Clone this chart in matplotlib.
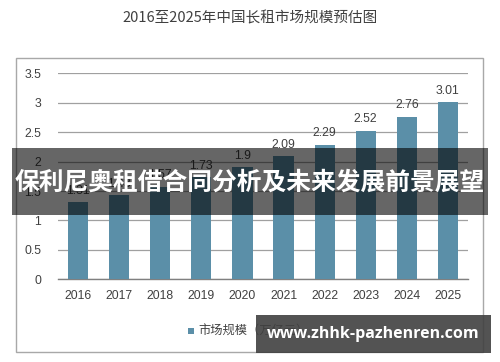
import matplotlib
matplotlib.use("Agg")
import matplotlib.pyplot as plt
from matplotlib.patches import Rectangle

plt.rcParams['font.family'] = ['Noto Sans CJK SC', 'DejaVu Sans']

years = ['2016', '2017', '2018', '2019', '2020', '2021', '2022', '2023', '2024', '2025']
values = [1.31, 1.43, 1.57, 1.73, 1.9, 2.09, 2.29, 2.52, 2.76, 3.01]
labels = ['1.31', '1.43', '1.57', '1.73', '1.9', '2.09', '2.29', '2.52', '2.76', '3.01']
yticks = [0, 0.5, 1, 1.5, 2, 2.5, 3, 3.5]
ytick_labels = ['0', '0.5', '1', '1.5', '2', '2.5', '3', '3.5']
title = '2016至2025年中国长租市场规模预估图'
legend_label = '市场规模（万亿元）'
overlay_text = '保利尼奥租借合同分析及未来发展前景展望'
watermark = 'www.zhhk-pazhenren.com'

W, H = 500, 362
fig = plt.figure(figsize=(W/100, H/100), dpi=100)
fig.patch.set_facecolor('white')

# outer chart frame
fig.add_artist(Rectangle((16/W, 1-352/H), (483-16)/W, (352-58)/H, transform=fig.transFigure,
                         fill=False, edgecolor='#a8a8a8', lw=1.0))

fig.text(250/W, 1-18/H, title, ha='center', va='center', fontsize=10.5, color='#404040',
         family=['Noto Sans CJK SC', 'DejaVu Sans'])

ax = fig.add_axes([58/W, 1-279.3/H, (468-58)/W, (279.3-73.3)/H])
x = list(range(len(years)))
bars = ax.bar(x, values, width=0.49, color='#5b8fa8', zorder=3)
ax.set_xlim(-0.49, 9.49)
ax.set_ylim(0, 3.5)
ax.set_yticks(yticks)
ax.set_yticklabels(ytick_labels)
ax.set_xticks(x)
ax.set_xticklabels(years)
ax.tick_params(axis='both', length=0, labelsize=8.8, colors='#404040')
ax.tick_params(axis='y', pad=12)
ax.tick_params(axis='x', pad=8)
for lab in ax.get_xticklabels() + ax.get_yticklabels():
    lab.set_family(['Liberation Sans', 'DejaVu Sans'])
ax.grid(axis='y', color='#a0a0a0', lw=0.9, zorder=0)
for s in ['left', 'right', 'top']:
    ax.spines[s].set_visible(False)
ax.spines['bottom'].set_color('#808080')
ax.spines['bottom'].set_linewidth(1.0)
for xi, v, l in zip(x, values, labels):
    ax.annotate(l, (xi, v), xytext=(0, 4), textcoords='offset points', ha='center', va='bottom',
                fontsize=8.8, color='#404040', family=['Liberation Sans', 'DejaVu Sans'])

# legend
fig.add_artist(Rectangle((188/W, 1-334/H), 6/W, 6/H, transform=fig.transFigure,
                         facecolor='#5b8fa8', edgecolor='none'))
fig.text(198/W, 1-331/H, legend_label, ha='left', va='center', fontsize=8.8, color='#404040')

# overlay band
fig.add_artist(Rectangle((12/W, 1-215/H), (488-12)/W, (215-148)/H, transform=fig.transFigure,
                         facecolor='black', alpha=0.6, edgecolor='none', zorder=10))
fig.text(250/W, 1-183/H, overlay_text, ha='center', va='center', fontsize=17.8, color='white',
         fontweight='bold', zorder=11)

# watermark box
fig.add_artist(Rectangle((256/W, 1-353/H), (491-256)/W, (353-315)/H, transform=fig.transFigure,
                         facecolor='#404040', alpha=0.9, edgecolor='none', zorder=10))
fig.text(373/W, 1-334/H, watermark, ha='center', va='center', fontsize=11.5, color='white',
         fontweight='bold', zorder=11, family=['Open Sans', 'DejaVu Sans'])

fig.savefig('out.png', dpi=100, facecolor='white')
